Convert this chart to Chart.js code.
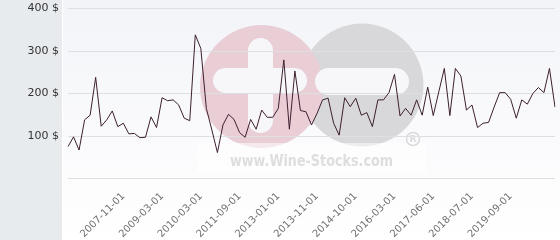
<!DOCTYPE html>
<html>
<head>
<meta charset="utf-8">
<script src="https://cdn.jsdelivr.net/npm/chart.js@4/dist/chart.umd.min.js"></script>
<style>
html,body{margin:0;padding:0;background:#fff;}
#wrap{width:560px;height:240px;position:relative;}
</style>
</head>
<body>
<div id="wrap"><canvas id="c" width="560" height="240"></canvas></div>
<script>
// ---- data ----
const prices = [75,98,67,138,149,238,123,138,159,122,130,105,106,96,97,145,120,190,183,185,
  173,142,136,338,306,165,114,61,126,151,139,108,97,139,116,161,144,144,165,279,
  116,253,160,157,126,153,185,189,130,102,190,169,189,149,155,122,185,185,202,245,
  147,165,149,185,149,215,148,204,259,148,259,241,161,173,120,130,132,168,202,202,
  186,142,185,175,200,214,202,259,168];
const tickLabels = ['2007-11-01','2009-03-01','2010-03-01','2011-09-01','2013-01-01','2013-11-01',
  '2014-10-01','2016-03-01','2017-06-01','2018-07-01','2019-09-01'];
const tickStart = 10;
const tickEvery = 7;
const yTicks = [0,100,200,300,400];

const categories = prices.map((_, i) =>
  (i >= tickStart && (i - tickStart) % tickEvery === 0) ? (tickLabels[(i - tickStart) / tickEvery] || '') : '');

function rr(ctx, x, y, w, h, r) {
  ctx.beginPath();
  ctx.moveTo(x + r, y);
  ctx.lineTo(x + w - r, y);
  ctx.arc(x + w - r, y + r, r, -Math.PI/2, 0);
  ctx.lineTo(x + w, y + h - r);
  ctx.arc(x + w - r, y + h - r, r, 0, Math.PI/2);
  ctx.lineTo(x + r, y + h);
  ctx.arc(x + r, y + h - r, r, Math.PI/2, Math.PI);
  ctx.lineTo(x, y + r);
  ctx.arc(x + r, y + r, r, Math.PI, 1.5*Math.PI);
  ctx.closePath();
}

const bgPlugin = {
  id: 'bg',
  beforeDraw(chart) {
    const ctx = chart.ctx, W = chart.width, H = chart.height;
    ctx.save();
    ctx.fillStyle = '#e8ebee';
    ctx.fillRect(0, 0, 62, H);
    ctx.fillStyle = '#ffffff';
    ctx.fillRect(62, 0, 1, H);
    const g = ctx.createLinearGradient(0, 0, 0, H);
    g.addColorStop(0, '#f3f4f8');
    g.addColorStop(1, '#ffffff');
    ctx.fillStyle = g;
    ctx.fillRect(63, 0, W - 63, H);
    // watermark
    ctx.fillStyle = '#d8d8da';
    ctx.beginPath(); ctx.arc(362, 85, 61.5, 0, 2*Math.PI); ctx.fill();
    ctx.fillStyle = '#e9ced6';
    ctx.beginPath(); ctx.arc(261.5, 86.5, 61.5, 0, 2*Math.PI); ctx.fill();
    ctx.fillStyle = '#f7f7f9';
    rr(ctx, 248, 38, 25, 95, 12.5); ctx.fill();
    rr(ctx, 213, 68, 94, 25, 12.5); ctx.fill();
    rr(ctx, 315, 68, 94, 27, 13.5); ctx.fill();
    ctx.fillStyle = 'rgba(255,255,255,0.55)';
    ctx.fillRect(197, 143, 230, 29);
    ctx.fillStyle = '#dedede';
    ctx.font = 'bold 16px "DejaVu Sans"';
    const t = 'www.Wine-Stocks.com';
    const tw = ctx.measureText(t).width;
    ctx.save();
    ctx.translate(230, 166);
    ctx.scale(163 / tw, 1);
    ctx.textBaseline = 'alphabetic';
    ctx.fillText(t, 0, 0);
    ctx.restore();
    ctx.strokeStyle = '#dadada';
    ctx.lineWidth = 1.5;
    ctx.beginPath(); ctx.arc(413, 139, 6.5, 0, 2*Math.PI); ctx.stroke();
    ctx.font = 'bold 9px "DejaVu Sans"';
    ctx.fillStyle = '#dadada';
    ctx.textAlign = 'center'; ctx.textBaseline = 'middle';
    ctx.fillText('R', 413, 139.5);
    ctx.restore();
  }
};

new Chart(document.getElementById('c'), {
  type: 'line',
  data: {
    labels: categories,
    datasets: [{
      data: prices,
      borderColor: '#3d1f2e',
      borderWidth: 1,
      pointRadius: 0,
      tension: 0,
      fill: false
    }]
  },
  options: {
    responsive: false,
    animation: false,
    devicePixelRatio: 1,
    layout: { padding: { top: 8.5, right: 5, left: 0, bottom: 0 } },
    plugins: { legend: { display: false }, tooltip: { enabled: false } },
    scales: {
      x: {
        grid: { display: false },
        border: { display: false },
        ticks: {
          autoSkip: false,
          maxRotation: 45,
          minRotation: 45,
          color: '#707070',
          font: { family: '"DejaVu Sans"', size: 10 },
          padding: 4,
          callback: function(v, i) { return categories[i]; }
        },
        afterFit(s) { s.height = 61.5; s.paddingLeft = 0; s.paddingRight = 0; }
      },
      y: {
        min: yTicks[0],
        max: yTicks[yTicks.length - 1],
        grid: { color: '#dedfe2', drawTicks: false },
        border: { display: false },
        ticks: {
          stepSize: 100,
          padding: 9,
          color: '#333333',
          font: { family: '"DejaVu Sans"', size: 11 },
          callback: v => v === 0 ? '' : v + ' $'
        },
        afterFit(s) { s.width = 68; s.paddingTop = 0; s.paddingBottom = 0; }
      }
    }
  },
  plugins: [bgPlugin]
});
</script>
</body>
</html>
